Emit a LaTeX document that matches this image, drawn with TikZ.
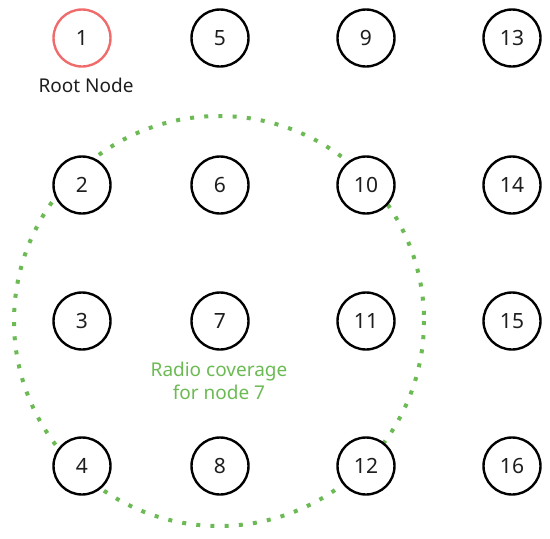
\documentclass[tikz,border=0pt]{standalone}
\usepackage{fontspec}
\setmainfont{Noto Sans}
\definecolor{rootred}{RGB}{240,108,108}
\definecolor{covgreen}{RGB}{108,186,84}
\definecolor{txt}{RGB}{30,30,30}
\begin{document}
\begin{tikzpicture}[x=1pt,y=-1pt,
  gnode/.style={circle,draw=black,line width=2.4pt,fill=white,minimum size=57pt,inner sep=0pt,text=txt,font=\fontsize{21}{23}\selectfont},
  rootnode/.style={gnode,draw=rootred},
  lbl/.style={font=\fontsize{19}{23}\selectfont,text=txt},
  cov/.style={draw=covgreen,line width=4pt,dash pattern=on 4pt off 10.2pt}]
\useasboundingbox (0,0) rectangle (550,539);
\draw[cov] (219,321) circle[radius=205];
\node[rootnode] (n1) at (82,38) {1};
\node[gnode] (n2) at (82,185) {2};
\node[gnode] (n3) at (82,321) {3};
\node[gnode] (n4) at (82,466) {4};
\node[gnode] (n5) at (220,38) {5};
\node[gnode] (n6) at (220,185) {6};
\node[gnode] (n7) at (220,321) {7};
\node[gnode] (n8) at (220,466) {8};
\node[gnode] (n9) at (366,38) {9};
\node[gnode] (n10) at (366,185) {10};
\node[gnode] (n11) at (366,321) {11};
\node[gnode] (n12) at (366,466) {12};
\node[gnode] (n13) at (512,38) {13};
\node[gnode] (n14) at (512,185) {14};
\node[gnode] (n15) at (512,321) {15};
\node[gnode] (n16) at (512,466) {16};
\node[lbl] (rootlbl) at (86,85) {Root Node};
\node[lbl,text=covgreen,align=center] (covlbl) at (219,381) {Radio coverage\\for node 7};
\end{tikzpicture}
\end{document}
